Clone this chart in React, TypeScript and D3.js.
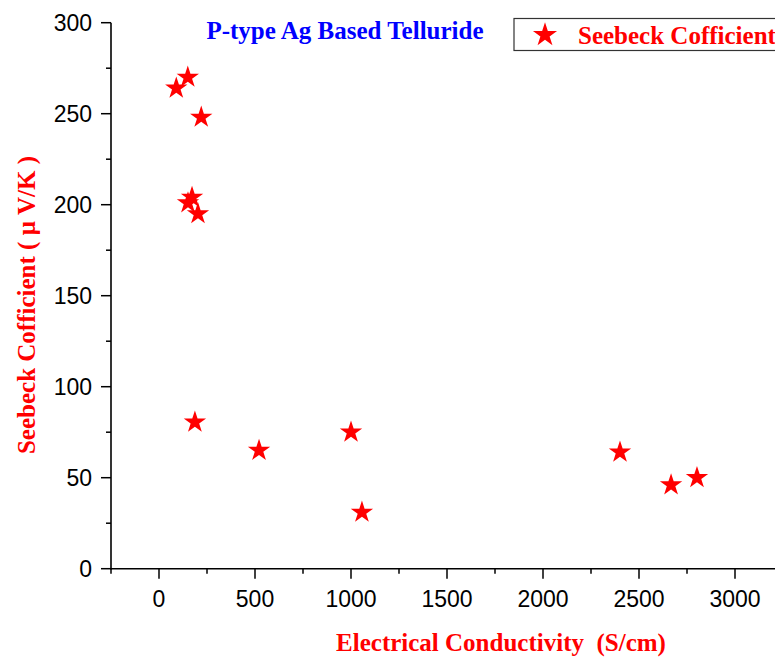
import * as d3 from 'd3';

// Electrical conductivity (S/cm) and Seebeck coefficient (uV/K)
const conductivity = [90, 150, 220, 172, 151, 203, 187, 521, 1000, 1057, 2401, 2667, 2802];
const seebeck = [264, 270, 248, 204, 201, 195, 80.5, 65, 75, 31, 64, 46, 50];
const xTicks = [0, 500, 1000, 1500, 2000, 2500, 3000];
const yTicks = [0, 50, 100, 150, 200, 250, 300];

const width = 775;
const height = 657;
const margin = { top: 22.7, left: 111, bottom: 88.3 };
const serif = "'Liberation Serif', 'Times New Roman', serif";
const sans = "'Liberation Sans', Arial, sans-serif";

export default function App() {
  const x = d3.scaleLinear().domain([-250, 3250]).range([margin.left, margin.left + 3500 * 0.192]);
  const y = d3.scaleLinear().domain([0, 300]).range([height - margin.bottom, margin.top]);
  const star = d3.symbol().type(d3.symbolStar).size(155)();
  const legendStar = d3.symbol().type(d3.symbolStar).size(180)();

  const xMinor = d3.range(-250, 3251, 250).filter((v) => v % 500 !== 0);
  const yMinor = d3.range(25, 300, 50);
  const y0 = y(0);

  return (
    <svg
      width={width}
      height={height}
      style={{ position: 'absolute', left: 0, top: 0, background: '#fff' }}
    >
      {/* points */}
      {conductivity.map((c, i) => (
        <path key={i} d={star} transform={`translate(${x(c)},${y(seebeck[i])})`} fill="#ff0000" />
      ))}

      {/* y axis */}
      <line x1={margin.left} x2={margin.left} y1={y(300)} y2={y0 + 0.75} stroke="#000" strokeWidth={1.6} />
      {yTicks.map((t) => (
        <g key={t}>
          <line x1={margin.left - 10} x2={margin.left} y1={y(t)} y2={y(t)} stroke="#000" strokeWidth={1.5} />
          <text x={92} y={y(t)} dy="0.36em" textAnchor="end" fontFamily={sans} fontSize={23}>
            {t}
          </text>
        </g>
      ))}
      {yMinor.map((t) => (
        <line key={t} x1={margin.left - 5} x2={margin.left} y1={y(t)} y2={y(t)} stroke="#000" strokeWidth={1.5} />
      ))}

      {/* x axis */}
      <line x1={margin.left} x2={width} y1={y0} y2={y0} stroke="#000" strokeWidth={1.6} />
      {xTicks.map((t) => (
        <g key={t}>
          <line x1={x(t)} x2={x(t)} y1={y0} y2={y0 + 10} stroke="#000" strokeWidth={1.5} />
          <text x={x(t)} y={607} textAnchor="middle" fontFamily={sans} fontSize={23}>
            {t}
          </text>
        </g>
      ))}
      {xMinor.map((t) => (
        <line key={t} x1={x(t)} x2={x(t)} y1={y0} y2={y0 + 5} stroke="#000" strokeWidth={1.5} />
      ))}

      {/* title */}
      <text x={345} y={39} textAnchor="middle" fill="#0000ff" fontFamily={serif} fontWeight="bold" fontSize={25}>
        P-type Ag Based Telluride
      </text>

      {/* legend */}
      <rect x={514} y={18.5} width={290} height={32} fill="#fff" stroke="#333" strokeWidth={1.2} />
      <path d={legendStar} transform="translate(545,35)" fill="#ff0000" />
      <text x={578} y={44} fill="#ff0000" fontFamily={serif} fontWeight="bold" fontSize={25}>
        Seebeck Cofficient
      </text>

      {/* axis titles */}
      <text
        x={501}
        y={651}
        textAnchor="middle"
        fill="#ff0000"
        fontFamily={serif}
        fontWeight="bold"
        fontSize={25}
        style={{ whiteSpace: 'pre' }}
      >
        {'Electrical Conductivity  (S/cm)'}
      </text>
      <text
        transform="translate(35,305) rotate(-90)"
        textAnchor="middle"
        fill="#ff0000"
        fontFamily={serif}
        fontWeight="bold"
        fontSize={25}
        style={{ whiteSpace: 'pre' }}
      >
        {'Seebeck Cofficient ( μ V/K )'}
      </text>
    </svg>
  );
}
